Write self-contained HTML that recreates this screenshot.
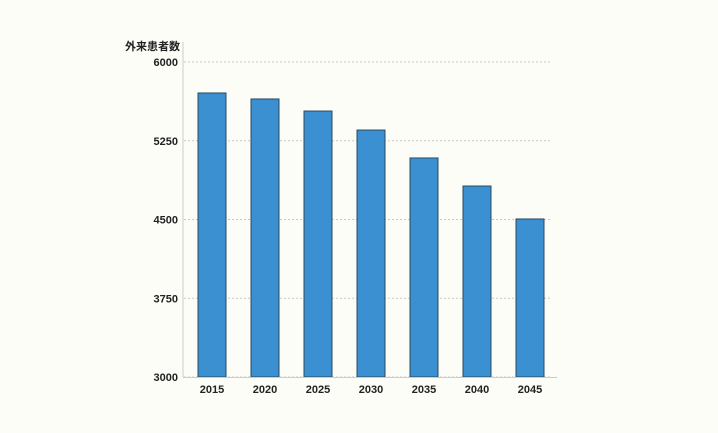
<!DOCTYPE html>
<html><head><meta charset="utf-8"><style>
body{margin:0;background:#fdfdf8;}
svg{display:block;font-family:"Liberation Sans","Noto Sans CJK JP",sans-serif;}
</style></head><body>
<svg width="718" height="433">
<g id="grid"></g><g id="bars"></g><g id="axes"></g>
</svg>
<script>
const categories=["2015","2020","2025","2030","2035","2040","2045"];
const values=[5705,5648,5533,5352,5086,4819,4505];
const ticks=[3000,3750,4500,5250,6000];
const ns="http://www.w3.org/2000/svg";
const y0=377,y1=62,vmin=3000,vmax=6000;
const yS=v=>y0-(v-vmin)/(vmax-vmin)*(y0-y1);
const xS=i=>212+53*i;
function mk(t,a,p){const e=document.createElementNS(ns,t);for(const k in a)e.setAttribute(k,a[k]);p.appendChild(e);return e;}
const grid=document.getElementById('grid'),bars=document.getElementById('bars'),axes=document.getElementById('axes');
ticks.forEach(t=>{
 const l=mk('line',{x1:184,x2:552,y1:yS(t),y2:yS(t),stroke:'#c8c8c8','stroke-dasharray':'2,2','stroke-width':1},grid);
 
 
 const tx=mk('text',{x:178,y:yS(t)+4,'text-anchor':'end','font-size':11,'font-weight':'bold',fill:'#222'},axes);
 tx.textContent=t;
 
 
});
values.forEach((v,i)=>{
 const r=mk('rect',{x:xS(i)-14,y:yS(v),width:28,height:y0-yS(v),fill:'#3a90d0',stroke:'#2a4a60','stroke-width':1},bars);
 
 
 const tx=mk('text',{x:xS(i),y:393,'text-anchor':'middle','font-size':11,'font-weight':'bold',fill:'#222'},axes);
 tx.textContent=categories[i];
 
 
});
const ya=mk('line',{x1:183,x2:183,y1:42,y2:377,stroke:'#ccc'},axes);


const xa=mk('line',{x1:183,x2:557,y1:377.5,y2:377.5,stroke:'#ccc'},axes);


const tt=mk('text',{x:180,y:50,'text-anchor':'end','font-size':11,'font-weight':'bold',fill:'#222'},axes);
tt.textContent='外来患者数';


</script>
</body></html>
